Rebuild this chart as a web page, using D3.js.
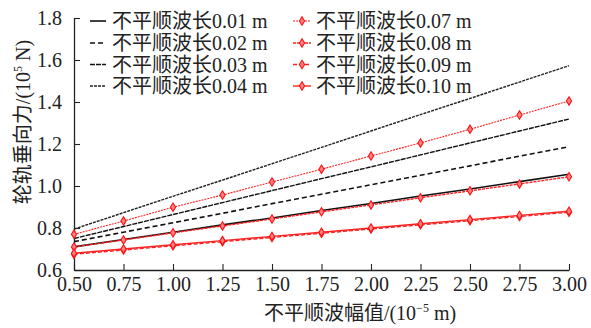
<!DOCTYPE html>
<html>
<head>
<meta charset="utf-8">
<script src="https://cdn.jsdelivr.net/npm/d3@7"></script>
<style>
  body { margin: 0; background: #fff; }
  text { font-family: "Liberation Serif", "Noto Sans CJK SC", serif; }
</style>
</head>
<body>
<svg id="chart" width="591" height="328"></svg>
<script>
// amplitude (10^-5 m)
var amplitudes = [0.50, 0.75, 1.00, 1.25, 1.50, 1.75, 2.00, 2.25, 2.50, 2.75, 3.00];

// wheel-rail vertical force (10^5 N), one array per wavelength
var f001 = [0.71, 0.745, 0.78, 0.815, 0.848, 0.883, 0.917, 0.952, 0.986, 1.021, 1.056];
var f002 = [0.735, 0.78, 0.825, 0.87, 0.916, 0.961, 1.006, 1.051, 1.096, 1.142, 1.187];
var f003 = [0.75, 0.807, 0.864, 0.921, 0.978, 1.035, 1.091, 1.148, 1.205, 1.262, 1.319];
var f004 = [0.795, 0.873, 0.951, 1.028, 1.106, 1.184, 1.262, 1.340, 1.417, 1.495, 1.573];
var f007 = [0.77, 0.833, 0.899, 0.957, 1.019, 1.08, 1.143, 1.205, 1.27, 1.338, 1.405];
var f008 = [0.71, 0.743, 0.777, 0.81, 0.843, 0.877, 0.91, 0.944, 0.977, 1.01, 1.044];
var f009 = [0.675, 0.695, 0.715, 0.735, 0.755, 0.775, 0.795, 0.815, 0.835, 0.855, 0.875];
var f010 = [0.68, 0.70, 0.72, 0.74, 0.76, 0.78, 0.80, 0.82, 0.84, 0.86, 0.88];

var yTicks = [0.6, 0.8, 1.0, 1.2, 1.4, 1.6, 1.8];
var legendNames = ["不平顺波长0.01 m", "不平顺波长0.02 m", "不平顺波长0.03 m", "不平顺波长0.04 m",
                   "不平顺波长0.07 m", "不平顺波长0.08 m", "不平顺波长0.09 m", "不平顺波长0.10 m"];

var red = "#f22";
var series = [
  {name: legendNames[0], v: f001, col: "#111", dash: null,  w: 1.6, mark: false},
  {name: legendNames[1], v: f002, col: "#111", dash: "5,3", w: 1.6, mark: false},
  {name: legendNames[2], v: f003, col: "#111", dash: "5,1", w: 1.4, mark: false},
  {name: legendNames[3], v: f004, col: "#222", dash: "3,1", w: 1.4, mark: false},
  {name: legendNames[4], v: f007, col: red,    dash: "2,1", w: 1.1, mark: true},
  {name: legendNames[5], v: f008, col: red,    dash: "3,1", w: 1.4, mark: true},
  {name: legendNames[6], v: f009, col: red,    dash: "4,2", w: 1.4, mark: true},
  {name: legendNames[7], v: f010, col: red,    dash: null,  w: 1.4, mark: true}
];

var svg = d3.select("#chart");
var plotL = 74, plotR = 569, plotT = 18, plotB = 270;

var x = d3.scaleLinear().domain([0.5, 3.0]).range([plotL, plotR]);
var y = d3.scaleLinear().domain([0.6, 1.8]).range([plotB, plotT]);

// axes, ticks pointing inward
var gx = svg.append("g")
  .attr("transform", "translate(0," + plotB + ")")
  .call(d3.axisBottom(x).tickValues(amplitudes).tickFormat(d3.format(".2f"))
        .tickSizeInner(-6).tickSizeOuter(0).tickPadding(7));
var gy = svg.append("g")
  .attr("transform", "translate(" + plotL + ",0)")
  .call(d3.axisLeft(y).tickValues(yTicks).tickFormat(d3.format(".1f"))
        .tickSizeInner(-6).tickSizeOuter(0).tickPadding(12));

[gx, gy].forEach(function(g) {
  g.selectAll("path.domain").attr("stroke", "#222").attr("stroke-width", 1.3);
  g.selectAll(".tick line").attr("stroke", "#222").attr("stroke-width", 1.1);
  g.selectAll(".tick text").attr("font-size", 20).attr("fill", "#222")
    .style("font-family", "'Liberation Serif', serif");
});

var line = d3.line()
  .x(function(d, i) { return x(amplitudes[i]); })
  .y(function(d) { return y(d); });

function diamond(sel) {
  sel.attr("d", "M0,-4.2L2.6,0L0,4.2L-2.6,0Z")
    .attr("fill", "#ff8080")
    .attr("stroke", "#f11")
    .attr("stroke-width", 1.1);
}

var g_lines = svg.append("g");
series.forEach(function(s) {
  g_lines.append("path")
    .datum(s.v)
    .attr("d", line)
    .attr("fill", "none")
    .attr("stroke", s.col)
    .attr("stroke-width", s.w)
    .attr("stroke-dasharray", s.dash);
  if (s.mark) {
    g_lines.append("g").selectAll("path").data(s.v)
      .enter().append("path")
      .attr("transform", function(d, i) { return "translate(" + x(amplitudes[i]) + "," + y(d) + ")"; })
      .call(diamond);
  }
});

// legend
var rowsY = [21, 43, 64.5, 86];
var g_leg = svg.append("g");
series.forEach(function(s, k) {
  var col = k < 4 ? 0 : 1;
  var ry = rowsY[k % 4];
  var x0 = col == 0 ? 90 : 293, x1 = col == 0 ? 106 : 311, tx = col == 0 ? 112 : 316;
  g_leg.append("line")
    .attr("x1", x0).attr("x2", x1).attr("y1", ry).attr("y2", ry)
    .attr("stroke", s.col).attr("stroke-width", s.w)
    .attr("stroke-dasharray", s.dash);
  if (s.mark) {
    g_leg.append("path").attr("transform", "translate(" + ((x0 + x1) / 2) + "," + ry + ")").call(diamond);
  }
  g_leg.append("text")
    .attr("x", tx).attr("y", ry + 7)
    .attr("font-size", 20).attr("fill", "#222")
    .text(s.name);
});

// axis titles
var xt = svg.append("text")
  .attr("x", 360).attr("y", 320)
  .attr("text-anchor", "middle").attr("font-size", 20).attr("fill", "#222");
xt.append("tspan").text("不平顺波幅值/(10");
xt.append("tspan").attr("font-size", 12).attr("dy", -8).text("−5");
xt.append("tspan").attr("dy", 8).text(" m)");

var yt = svg.append("text")
  .attr("transform", "translate(30,122) rotate(-90)")
  .attr("text-anchor", "middle").attr("font-size", 20).attr("fill", "#222");
yt.append("tspan").text("轮轨垂向力/(10");
yt.append("tspan").attr("font-size", 12).attr("dy", -8).text("5");
yt.append("tspan").attr("dy", 8).text(" N)");
</script>
</body>
</html>
